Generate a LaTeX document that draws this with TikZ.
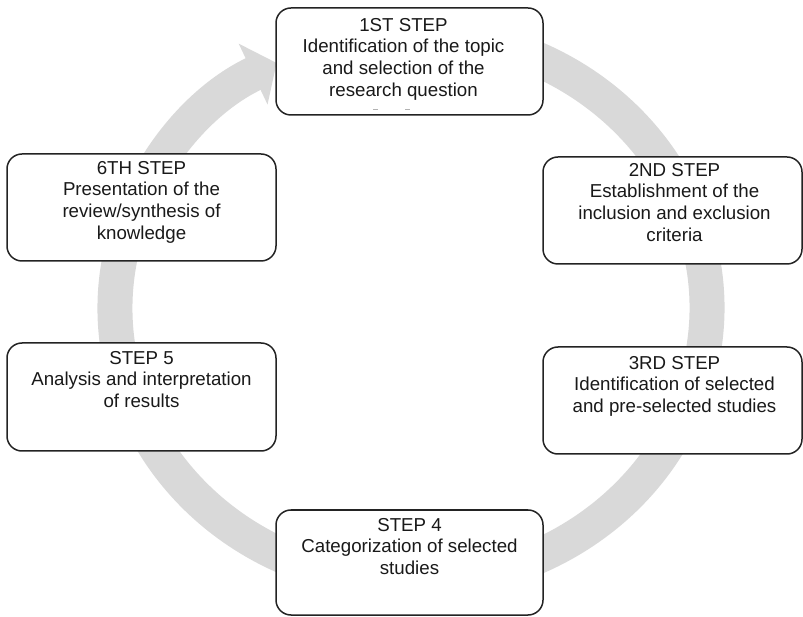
\documentclass[tikz,border=0pt]{standalone}
\usepackage{fontspec}
\setmainfont{Liberation Sans}
\usetikzlibrary{arrows.meta}
\definecolor{ringgray}{RGB}{217,217,217}
\definecolor{boxline}{RGB}{35,35,35}
\definecolor{txt}{RGB}{25,25,25}
\begin{document}
\begin{tikzpicture}[x=1pt,y=1pt,
  stepbox/.style={draw=boxline, line width=1.5pt, rounded corners=15pt, fill=white, inner sep=0pt},
  steptext/.style={anchor=north, align=center, inner sep=0pt, text=txt,
    font=\fontsize{18.7pt}{21.7pt}\selectfont},
  ring/.style={draw=ringgray, line width=35pt, -{Triangle[length=26pt,width=66pt]}}]
\useasboundingbox (0,0) rectangle (803,616);
% cycle ring with arrow head
\coordinate (c) at (411,308);
\draw[ring] (c) ++(80:296 and 275) arc[start angle=80, end angle=-243, x radius=296, y radius=275];
% boxes
\node[stepbox, minimum width=267pt, minimum height=107pt] (s1) at (409.5,554.5) {};
\node[stepbox, minimum width=259pt, minimum height=107pt] (s2) at (672.5,405.5) {};
\node[stepbox, minimum width=259pt, minimum height=107pt] (s3) at (672.5,215.5) {};
\node[stepbox, minimum width=267pt, minimum height=105pt] (s4) at (409.5,53.5) {};
\node[stepbox, minimum width=269pt, minimum height=108pt] (s5) at (141.5,219) {};
\node[stepbox, minimum width=269pt, minimum height=107pt] (s6) at (141.5,408.5) {};
% texts
\node[steptext] (t1) at ([xshift=-6pt,yshift=-10.5pt]s1.north) {1ST STEP\\Identification of the topic\\and selection of the\\research question};
\node[steptext] (t2) at ([xshift=2pt,yshift=-6.5pt]s2.north) {2ND STEP\\Establishment of the\\inclusion and exclusion\\criteria};
\node[steptext] (t3) at ([xshift=2pt,yshift=-9.5pt]s3.north) {3RD STEP\\Identification of selected\\and pre-selected studies};
\node[steptext] (t4) at ([yshift=-8.5pt]s4.north) {STEP 4\\Categorization of selected\\studies};
\node[steptext] (t5) at ([yshift=-8.5pt]s5.north) {STEP 5\\Analysis and interpretation\\of results};
\node[steptext] (t6) at ([yshift=-7.5pt]s6.north) {6TH STEP\\Presentation of the\\review/synthesis of\\knowledge};
% small marks at bottom of first box
\draw[gray!60, line width=1pt] (373,506) -- (378,506);
\draw[gray!60, line width=1pt] (405,506) -- (410,506);
\end{tikzpicture}
\end{document}
